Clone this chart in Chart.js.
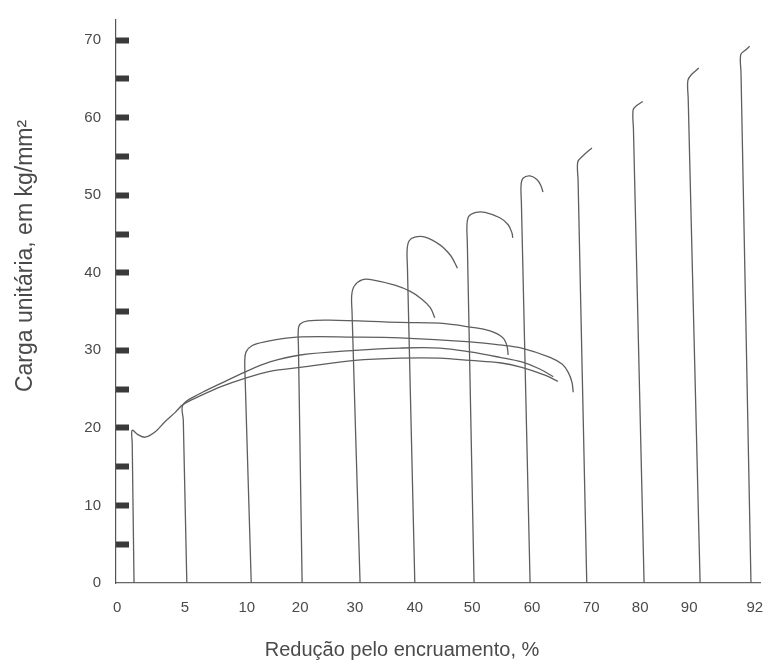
<!DOCTYPE html>
<html>
<head>
<meta charset="utf-8">
<script src="https://cdn.jsdelivr.net/npm/chart.js@4/dist/chart.umd.min.js"></script>
<style>
  html, body { margin: 0; padding: 0; background: #ffffff; }
  #wrap { width: 765px; height: 666px; position: relative; }
</style>
</head>
<body>
<div id="wrap"><canvas id="chart"></canvas></div>
<script>
// ---- Data ----
const reductions = ['0', '5', '10', '20', '30', '40', '50', '60', '70', '80', '90', '92'];
const xTickPos = [0.2, 10.7, 20.3, 28.6, 37.1, 46.4, 55.3, 64.6, 73.8, 81.4, 89.0, 99.2];
const yTickValues = [0, 5, 10, 15, 20, 25, 30, 35, 40, 45, 50, 55, 60, 65, 70];
const xTitle = 'Redução pelo encruamento, %';
const yTitle = 'Carga unitária, em kg/mm²';

// each curve: elongation (arbitrary units, offset by its own origin) and load (kg/mm²)
const curve0X = [2.8, 2.52, 2.5, 3.3, 4.5, 6.1, 7.6, 9.2, 10.4, 13.0, 16.2, 20.0, 23.9, 28.6, 37.1, 44.1, 50.3, 55.0, 59.6, 63.0, 66.6, 68.6];
const curve0Y = [0, 18.0, 19.7, 19.2, 18.8, 19.5, 20.8, 22.0, 23.0, 24.1, 25.3, 26.4, 27.3, 27.8, 28.7, 29.0, 29.0, 28.7, 28.4, 27.8, 26.8, 26.0];

const curve5X = [11.0, 10.45, 10.4, 13.0, 16.2, 20.0, 23.9, 28.6, 37.1, 44.1, 50.3, 55.0, 59.6, 63.0, 65.8, 67.9];
const curve5Y = [0, 21.0, 23.0, 24.4, 25.7, 27.2, 28.5, 29.4, 30.0, 30.3, 30.3, 29.8, 29.1, 28.5, 27.6, 26.6];

const curve10X = [21.0, 20.05, 20.0, 20.2, 21.1, 23.1, 28.1, 37.1, 44.1, 55.0, 59.6, 63.0, 67.4, 69.3, 70.2, 70.8, 71.0];
const curve10Y = [0, 26.5, 28.7, 29.8, 30.6, 31.1, 31.7, 31.7, 31.6, 31.1, 30.7, 30.3, 29.1, 28.2, 27.2, 25.9, 24.6];

const curve20X = [28.9, 28.33, 28.3, 28.6, 29.8, 33.2, 44.1, 50.3, 55.0, 58.1, 60.1, 60.7, 60.9];
const curve20Y = [0, 30.5, 32.6, 33.4, 33.8, 33.9, 33.6, 33.5, 33.0, 32.5, 31.6, 30.6, 29.4];

const curve30X = [37.9, 36.65, 36.6, 37.0, 38.2, 39.8, 43.3, 45.7, 47.5, 48.8, 49.5];
const curve30Y = [0, 35.0, 37.1, 38.3, 39.1, 39.1, 38.4, 37.6, 36.6, 35.5, 34.2];

const curve40X = [46.4, 45.25, 45.2, 45.5, 46.4, 48.0, 50.3, 51.9, 52.6, 53.0];
const curve40Y = [0, 40.8, 42.9, 44.1, 44.6, 44.6, 43.6, 42.3, 41.3, 40.6];

const curve50X = [55.6, 54.55, 54.5, 54.8, 55.9, 57.3, 59.6, 60.9, 61.5, 61.6];
const curve50Y = [0, 44.0, 46.2, 47.3, 47.8, 47.8, 47.1, 46.2, 45.1, 44.5];

const curve60X = [64.3, 62.95, 62.9, 63.2, 64.3, 65.4, 66.0, 66.3];
const curve60Y = [0, 49.0, 51.3, 52.2, 52.5, 52.0, 51.2, 50.4];

const curve70X = [73.1, 71.75, 71.7, 72.4, 73.9];
const curve70Y = [0, 52.0, 54.3, 55.0, 56.1];

const curve80X = [82.0, 80.35, 80.3, 80.9, 81.8];
const curve80Y = [0, 58.5, 61.0, 61.6, 62.1];

const curve90X = [90.7, 88.85, 88.8, 89.4, 90.5];
const curve90Y = [0, 62.5, 64.8, 65.6, 66.4];

const curve92X = [98.6, 97.05, 97.0, 97.7, 98.4];
const curve92Y = [0, 65.8, 68.1, 68.7, 69.2];

const curveXs = [curve0X, curve5X, curve10X, curve20X, curve30X, curve40X, curve50X, curve60X, curve70X, curve80X, curve90X, curve92X];
const curveYs = [curve0Y, curve5Y, curve10Y, curve20Y, curve30Y, curve40Y, curve50Y, curve60Y, curve70Y, curve80Y, curve90Y, curve92Y];

// ---- Chart ----
const FONT = "'Liberation Sans', Arial, Helvetica, sans-serif";
const LINE = '#5e5e5e';
const TEXT = '#4a4a4a';

const datasets = curveXs.map((xs, k) => ({
  label: reductions[k] + '%',
  data: xs.map((x, i) => ({ x: x, y: curveYs[k][i] })),
  showLine: true,
  pointRadius: 0,
  borderColor: LINE,
  borderWidth: 1.3,
  tension: 0.35,
  fill: false,
  clip: false
}));

const axisTitles = {
  id: 'axisTitles',
  afterDraw(chart) {
    const ctx = chart.ctx;
    ctx.save();
    ctx.fillStyle = TEXT;
    ctx.textAlign = 'center';
    ctx.textBaseline = 'middle';
    ctx.font = '20px ' + FONT;
    ctx.fillText(xTitle, 402, 650);
    ctx.translate(26, 256);
    ctx.rotate(-Math.PI / 2);
    ctx.font = '23px ' + FONT;
    ctx.fillText(yTitle, 0, 0);
    ctx.restore();
  }
};

function zeroPadding(s) {
  s.paddingLeft = 0; s.paddingRight = 0; s.paddingTop = 0; s.paddingBottom = 0;
}

new Chart(document.getElementById('chart'), {
  type: 'scatter',
  data: { datasets: datasets },
  plugins: [axisTitles],
  options: {
    responsive: true,
    maintainAspectRatio: false,
    animation: false,
    events: [],
    layout: { padding: { left: 0, right: 5, top: 20, bottom: 0 } },
    plugins: { legend: { display: false }, tooltip: { enabled: false } },
    scales: {
      x: {
        type: 'linear',
        min: 0,
        max: 100,
        afterFit(s) { s.height = 83; zeroPadding(s); },
        afterBuildTicks(s) { s.ticks = xTickPos.map(v => ({ value: v })); },
        ticks: {
          autoSkip: false,
          maxRotation: 0,
          padding: 16,
          color: TEXT,
          font: { family: FONT, size: 15 },
          callback: (v, i) => reductions[i]
        },
        grid: { display: false, drawTicks: false },
        border: { display: true, color: '#666', width: 1.2 }
      },
      y: {
        type: 'linear',
        min: 0,
        max: 72.6,
        afterFit(s) { s.width = 116; zeroPadding(s); },
        afterBuildTicks(s) { s.ticks = yTickValues.map(v => ({ value: v })); },
        ticks: {
          padding: 28,
          color: TEXT,
          font: { family: FONT, size: 15 },
          callback: v => (v % 10 === 0 ? String(v) : '')
        },
        grid: {
          display: true,
          drawOnChartArea: false,
          drawTicks: true,
          tickLength: -13,
          tickWidth: 6,
          tickColor: c => (c.tick && c.tick.value === 0 ? 'rgba(0,0,0,0)' : '#3a3a3a')
        },
        border: { display: true, color: '#555', width: 1.2 }
      }
    }
  }
});
</script>
</body>
</html>
